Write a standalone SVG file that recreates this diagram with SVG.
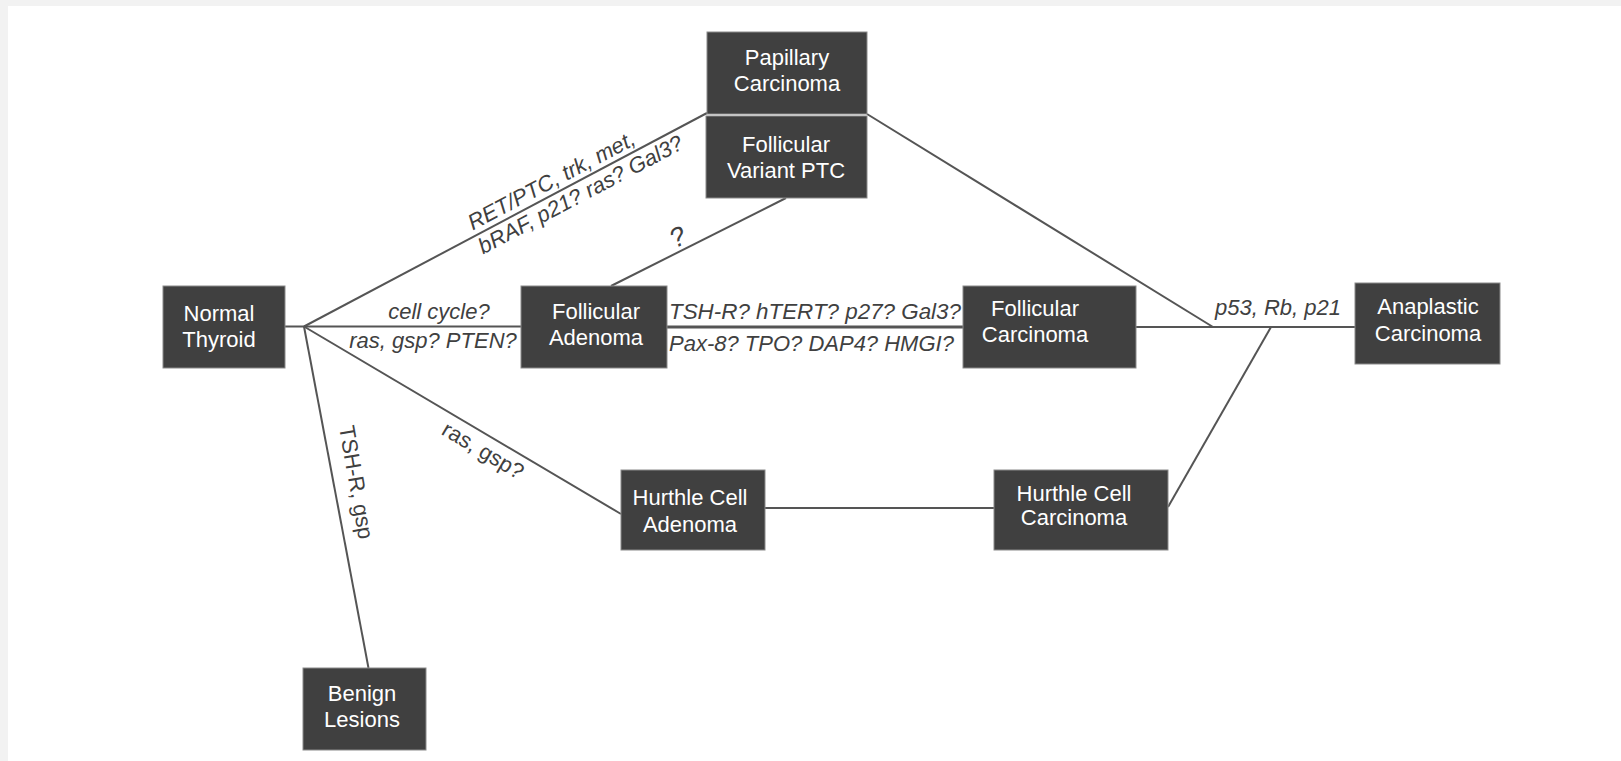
<svg xmlns="http://www.w3.org/2000/svg" width="1621" height="761" viewBox="0 0 1621 761">
<style>
.box{fill:#404040;stroke:#8a8a8a;stroke-width:1}
.nt{font-family:"Liberation Sans",Arial,sans-serif;font-size:22px;fill:#ffffff;text-anchor:middle}
.ln{stroke:#555555;stroke-width:2;fill:none}
.lb{font-family:"Liberation Sans",Arial,sans-serif;font-size:22px;fill:#404040}
.it{font-style:italic}
</style>
<rect x="0" y="0" width="1621" height="761" fill="#f2f2f2"/>
<rect x="8" y="6" width="1613" height="755" fill="#ffffff"/>
<g id="connectors">
<line class="ln" x1="285" y1="326.5" x2="521" y2="326.5"/>
<line class="ln" x1="304" y1="326.5" x2="707" y2="113"/>
<line class="ln" x1="304" y1="326.5" x2="368.5" y2="668"/>
<line class="ln" x1="304" y1="326.5" x2="621" y2="514"/>
<line class="ln" x1="611" y1="286" x2="786" y2="198"/>
<line class="ln" x1="667" y1="327" x2="963" y2="327" style="stroke-width:3"/>
<line class="ln" x1="1136" y1="327" x2="1355" y2="327"/>
<line class="ln" x1="867" y1="114" x2="1213" y2="327"/>
<line class="ln" x1="1168" y1="507" x2="1271" y2="327"/>
<line class="ln" x1="765" y1="508" x2="994" y2="508"/>
<text class="lb it" x="439" y="319" text-anchor="middle">cell cycle?</text>
<text class="lb it" x="433" y="348" text-anchor="middle">ras, gsp? PTEN?</text>
<text class="lb it" x="669" y="319" textLength="292" lengthAdjust="spacingAndGlyphs">TSH-R? hTERT? p27? Gal3?</text>
<text class="lb it" x="669" y="351">Pax-8? TPO? DAP4? HMGI?</text>
<text class="lb it" x="1215" y="315">p53, Rb, p21</text>
<g transform="translate(304,326.5) rotate(-27.86)">
<text class="lb it" x="194" y="-6">RET/PTC, trk, met,</text>
<text class="lb it" x="192" y="20">bRAF, p21? ras? Gal3?</text>
</g>
<text class="lb it" transform="translate(682,245) rotate(-26.7)" text-anchor="middle" style="font-size:27px">?</text>
<g transform="translate(304,326.5) rotate(30.6)">
<text class="lb" x="172" y="23">ras, gsp?</text>
</g>
<g transform="translate(304,326.5) rotate(80)">
<text class="lb" x="105" y="-17">TSH-R, gsp</text>
</g>
</g>
<g id="papillary"><rect class="box" x="707" y="32" width="160" height="82"/><text class="nt" x="787" y="65">Papillary</text><text class="nt" x="787" y="91">Carcinoma</text></g>
<g id="fvptc"><rect class="box" x="706" y="116" width="161" height="82"/><text class="nt" x="786" y="152">Follicular</text><text class="nt" x="786" y="178">Variant PTC</text></g>
<g id="normal"><rect class="box" x="163" y="286" width="122" height="82"/><text class="nt" x="219" y="321">Normal</text><text class="nt" x="219" y="347">Thyroid</text></g>
<g id="fadenoma"><rect class="box" x="521" y="286" width="146" height="82"/><text class="nt" x="596" y="319">Follicular</text><text class="nt" x="596" y="345">Adenoma</text></g>
<g id="fcarcinoma"><rect class="box" x="963" y="286" width="173" height="82"/><text class="nt" x="1035" y="316">Follicular</text><text class="nt" x="1035" y="342">Carcinoma</text></g>
<g id="anaplastic"><rect class="box" x="1355" y="283" width="145" height="81"/><text class="nt" x="1428" y="314">Anaplastic</text><text class="nt" x="1428" y="341">Carcinoma</text></g>
<g id="hcadenoma"><rect class="box" x="621" y="470" width="144" height="80"/><text class="nt" x="690" y="505">Hurthle Cell</text><text class="nt" x="690" y="532">Adenoma</text></g>
<g id="hccarcinoma"><rect class="box" x="994" y="470" width="174" height="80"/><text class="nt" x="1074" y="501">Hurthle Cell</text><text class="nt" x="1074" y="525">Carcinoma</text></g>
<g id="benign"><rect class="box" x="303" y="668" width="123" height="82"/><text class="nt" x="362" y="701">Benign</text><text class="nt" x="362" y="727">Lesions</text></g>
</svg>
